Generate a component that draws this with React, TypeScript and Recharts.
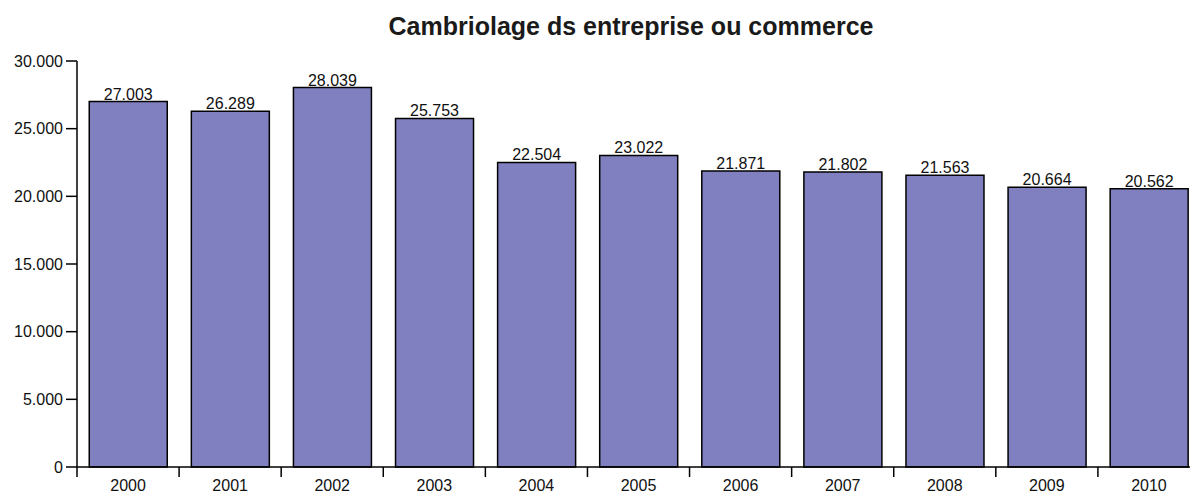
import { BarChart, Bar, XAxis, YAxis, LabelList } from "recharts";

const years = ["2000", "2001", "2002", "2003", "2004", "2005", "2006", "2007", "2008", "2009", "2010"];
const cambriolages = [27003, 26289, 28039, 25753, 22504, 23022, 21871, 21802, 21563, 20664, 20562];
const yTicks = [0, 5000, 10000, 15000, 20000, 25000, 30000];

const data = years.map((year, i) => ({ year, value: cambriolages[i] }));

const FONT = "'Liberation Sans', Arial, sans-serif";

// 27003 -> "27.003"
const fmt = (v: number) => String(v).replace(/\B(?=(\d{3})+(?!\d))/g, ".");

function YearTick(props: any) {
  const { x, y, payload, width } = props;
  const band = width / years.length;
  return (
    <g>
      <line x1={x - band / 2} y1={y} x2={x - band / 2} y2={y + 10} stroke="#000" strokeWidth={1.5} />
      <text x={x} y={y + 24} textAnchor="middle" fontSize={16} fontFamily={FONT} fill="#111">
        {payload.value}
      </text>
    </g>
  );
}

export default function App() {
  return (
    <div
      style={{
        position: "fixed",
        left: 0,
        top: 0,
        width: 1190,
        height: 495,
        overflow: "hidden",
        background: "#fff",
      }}
    >
      {/* Title */}
      <div
        style={{
          position: "absolute",
          left: 0,
          top: 14,
          width: 1262,
          textAlign: "center",
          fontFamily: FONT,
          fontWeight: "bold",
          fontSize: 25,
          lineHeight: "25px",
          color: "#1a1a1a",
        }}
      >
        Cambriolage ds entreprise ou commerce
      </div>

      <BarChart
        width={1210}
        height={495}
        data={data}
        margin={{ top: 61, right: 10, bottom: 0, left: 0 }}
        barCategoryGap="12%"
      >
        <XAxis
          dataKey="year"
          height={28}
          axisLine={{ stroke: "#000", strokeWidth: 1.5 }}
          tickLine={false}
          tickSize={0}
          tickMargin={0}
          interval={0}
          tick={<YearTick />}
        />
        <YAxis
          width={77}
          domain={[0, 30000]}
          ticks={yTicks}
          interval={0}
          tickFormatter={fmt}
          axisLine={{ stroke: "#000", strokeWidth: 1.5 }}
          tickLine={{ stroke: "#000", strokeWidth: 1.5 }}
          tickSize={11}
          tickMargin={3}
          tick={{ fontSize: 16, fontFamily: FONT, fill: "#111" }}
        />
        <Bar
          dataKey="value"
          fill="#8080c0"
          stroke="#000"
          strokeWidth={1.5}
          isAnimationActive={false}
        >
          <LabelList
            dataKey="value"
            position="top"
            offset={2}
            formatter={(v: any) => fmt(Number(v))}
            style={{ fontSize: 16, fontFamily: FONT, fill: "#111" }}
          />
        </Bar>
      </BarChart>
    </div>
  );
}
